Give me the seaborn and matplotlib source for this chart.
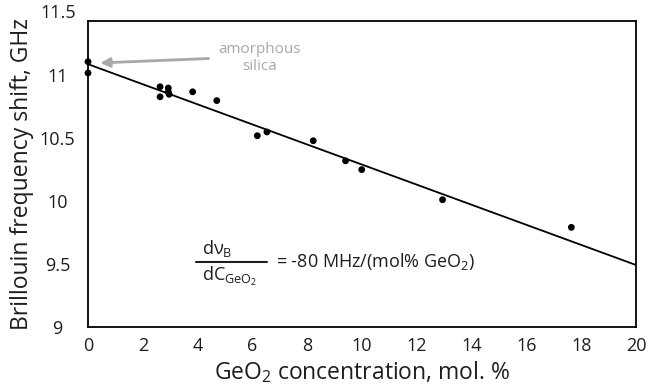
import numpy as np
import pandas as pd
import seaborn as sns
import matplotlib
matplotlib.use("Agg")
import matplotlib.pyplot as plt
from matplotlib.transforms import blended_transform_factory

# GeO2 content of the measured fibres (mol. %) and their Brillouin shift (GHz)
geo2_conc = [0.0, 0.0, 2.63, 2.63, 2.93, 2.93, 2.96, 3.82, 4.70,
             6.18, 6.53, 8.22, 9.40, 9.99, 12.94, 17.64]
brillouin_shift = [11.11, 11.02, 10.91, 10.83, 10.90, 10.87, 10.85, 10.87, 10.80,
                   10.52, 10.55, 10.48, 10.32, 10.25, 10.01, 9.79]

# linear trend: shift at pure silica and slope of -80 MHz per mol. %
intercept_ghz = 11.09
slope_mhz_per_mol = -80

x_ticks = [0, 2, 4, 6, 8, 10, 12, 14, 16, 18, 20]
y_ticks = [9, 9.5, 10, 10.5, 11]
y_tick_labels = ["9", "9.5", "10", "10.5", "11"]

df = pd.DataFrame({"conc": geo2_conc, "shift": brillouin_shift})
fit_x = np.array([0, 20])
fit = pd.DataFrame({"conc": fit_x,
                    "shift": intercept_ghz + slope_mhz_per_mol / 1000 * fit_x})

sns.set_style("white")
plt.rcParams["font.family"] = ["Open Sans", "DejaVu Sans"]
plt.rcParams["mathtext.fontset"] = "custom"
plt.rcParams["mathtext.rm"] = "Open Sans"
plt.rcParams["mathtext.it"] = "Open Sans"
plt.rcParams["mathtext.bf"] = "Open Sans"

txt = "#1e1e1e"
fig = plt.figure(figsize=(6.48, 3.9), dpi=100)
ax = fig.add_axes([88 / 648, 1 - 326.5 / 390, (636 - 88) / 648, (326.5 - 21) / 390])

sns.lineplot(data=fit, x="conc", y="shift", color="black", linewidth=1.3, ax=ax)
sns.scatterplot(data=df, x="conc", y="shift", color="black", s=24,
                edgecolor="none", ax=ax, zorder=3, clip_on=False)

ax.set_xlim(0, 20)
ax.set_ylim(9, 11.434)
ax.set_xticks(x_ticks)
ax.set_yticks(y_ticks)
ax.set_yticklabels(y_tick_labels, ha="center")
ax.tick_params(axis="both", direction="inout", length=5, width=1,
               color="black", labelsize=13, labelcolor=txt)
ax.tick_params(axis="x", pad=5)
ax.tick_params(axis="y", pad=19.5)

# top label sits just above the frame, centred like the other y labels
ytrans = blended_transform_factory(ax.transAxes, ax.transData)
ax.text(-29.5 / 548, 11.5, "11.5", transform=ytrans, ha="center", va="center",
        fontsize=13, color=txt, clip_on=False)

for s in ax.spines.values():
    s.set_visible(True)
    s.set_color("black")
    s.set_linewidth(1.3)

ax.set_xlabel("GeO$_2$ concentration, mol. %", fontsize=16.5, color=txt,
              labelpad=3)
ax.set_ylabel("Brillouin frequency shift, GHz", fontsize=16.5, color=txt,
              labelpad=4)

# pure-silica reference point annotation
ax.annotate("", xy=(0.45, 11.1), xytext=(4.4, 11.135),
            arrowprops=dict(arrowstyle="-|>", color="#a8a8a8", lw=2,
                            mutation_scale=14, shrinkA=0, shrinkB=0))
ax.text(6.25, 11.14, "amorphous\nsilica", ha="center", va="center",
        fontsize=11, color="#a8a8a8", linespacing=1.15)

# slope annotation: d(nu_B)/d(C_GeO2) written as a stacked fraction
ax.text(4.16, 9.578, r"d$\mathrm{\nu}_{\mathrm{B}}$", ha="left", va="baseline",
        fontsize=13, color=txt)
ax.text(4.16, 9.362, r"dC$_{\mathrm{GeO_2}}$", ha="left", va="baseline",
        fontsize=13, color=txt)
ax.annotate("", xy=(6.53, 9.514), xytext=(3.94, 9.514),
            arrowprops=dict(arrowstyle="-", color=txt, lw=1.5,
                            shrinkA=0, shrinkB=0))
ax.text(6.86, 9.52, "= %d MHz/(mol%% GeO$_2$)" % slope_mhz_per_mol,
        ha="left", va="center", fontsize=13, color=txt)

fig.savefig("out.png", dpi=100)
